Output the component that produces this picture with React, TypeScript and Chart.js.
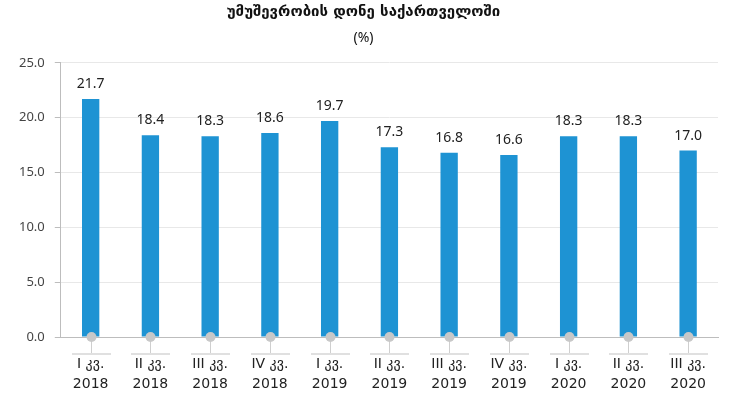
import React, { useEffect, useRef } from "react";
import { Chart, registerables } from "chart.js";

Chart.register(...registerables);

const quarters = ["I კვ.", "II კვ.", "III კვ.", "IV კვ.", "I კვ.", "II კვ.", "III კვ.", "IV კვ.", "I კვ.", "II კვ.", "III კვ."];
const years = ["2018", "2018", "2018", "2018", "2019", "2019", "2019", "2019", "2020", "2020", "2020"];
const unemployment = [21.7, 18.4, 18.3, 18.6, 19.7, 17.3, 16.8, 16.6, 18.3, 18.3, 17.0];
const titleText = "უმუშევრობის დონე საქართველოში";
const subtitleText = "(%)";

const FONT = "'Noto Sans', 'DejaVu Sans', sans-serif";

const decorPlugin = {
  id: "decor",
  afterDatasetsDraw(chart: any) {
    const ctx = chart.ctx;
    const meta = chart.getDatasetMeta(0);
    ctx.save();
    ctx.font = `14px ${FONT}`;
    ctx.fillStyle = "#222";
    ctx.textAlign = "center";
    ctx.textBaseline = "bottom";
    meta.data.forEach((bar: any, i: number) => {
      ctx.fillText(unemployment[i].toFixed(1), bar.x, bar.y - 8);
    });
    ctx.restore();
  },
  afterDraw(chart: any) {
    const ctx = chart.ctx;
    const x = chart.scales.x;
    const y = chart.scales.y;
    const base = y.getPixelForValue(0);
    ctx.save();
    for (let i = 0; i < unemployment.length; i++) {
      const px = Math.round(x.getPixelForValue(i)) + 0.5;
      ctx.strokeStyle = "#cfcfcf";
      ctx.lineWidth = 1;
      ctx.beginPath();
      ctx.moveTo(px, base);
      ctx.lineTo(px, base + 16);
      ctx.stroke();
      ctx.strokeStyle = "#e0e0e0";
      ctx.lineWidth = 2;
      ctx.beginPath();
      ctx.moveTo(px - 19.5, base + 17);
      ctx.lineTo(px + 19.5, base + 17);
      ctx.stroke();
      ctx.fillStyle = "#c8c8c8";
      ctx.beginPath();
      ctx.arc(px, base, 5, 0, Math.PI * 2);
      ctx.fill();
    }
    ctx.restore();
  },
};

export default function App() {
  const ref = useRef<HTMLCanvasElement>(null);
  useEffect(() => {
    document.body.style.margin = "0";
    const chart = new Chart(ref.current!, {
      type: "bar",
      data: {
        labels: quarters.map((q, i) => [q, years[i]]),
        datasets: [
          {
            data: unemployment,
            backgroundColor: "#1e93d3",
            borderWidth: 0,
            barPercentage: 0.29,
            categoryPercentage: 1,
          },
        ],
      },
      options: {
        responsive: false,
        animation: false,
        layout: { padding: { top: 0, right: 20, bottom: 0, left: 9 } },
        plugins: {
          legend: { display: false },
          tooltip: { enabled: false },
          title: {
            display: true,
            text: titleText,
            color: "#111",
            font: { family: "DejaVu Sans", size: 15, weight: "bold" },
            padding: { top: 3, bottom: 9 },
          },
          subtitle: {
            display: true,
            text: subtitleText,
            color: "#111",
            font: { family: FONT, size: 14 },
            padding: { top: 0, bottom: 16 },
          },
        },
        scales: {
          x: {
            grid: { display: false, drawTicks: false },
            border: { display: true, color: "#bdbdbd" },
            afterFit: (scale: any) => {
              scale.height = 62;
            },
            ticks: {
              color: "#222",
              font: { family: "DejaVu Sans", size: 14, lineHeight: 1.45 },
              padding: 17,
              maxRotation: 0,
              autoSkip: false,
            },
          },
          y: {
            min: 0,
            max: 25,
            ticks: {
              stepSize: 5,
              color: "#444",
              font: { family: FONT, size: 13 },
              padding: 10,
              callback: (v: any) => Number(v).toFixed(1),
            },
            grid: { color: "#e8e8e8", tickLength: 6, tickColor: "#bdbdbd" },
            border: { display: true, color: "#bdbdbd" },
          },
        },
      },
      plugins: [decorPlugin],
    });
    return () => chart.destroy();
  }, []);
  return (
    <div style={{ width: 738, height: 399, background: "#fff" }}>
      <canvas ref={ref} width={738} height={399} style={{ display: "block" }} />
    </div>
  );
}
